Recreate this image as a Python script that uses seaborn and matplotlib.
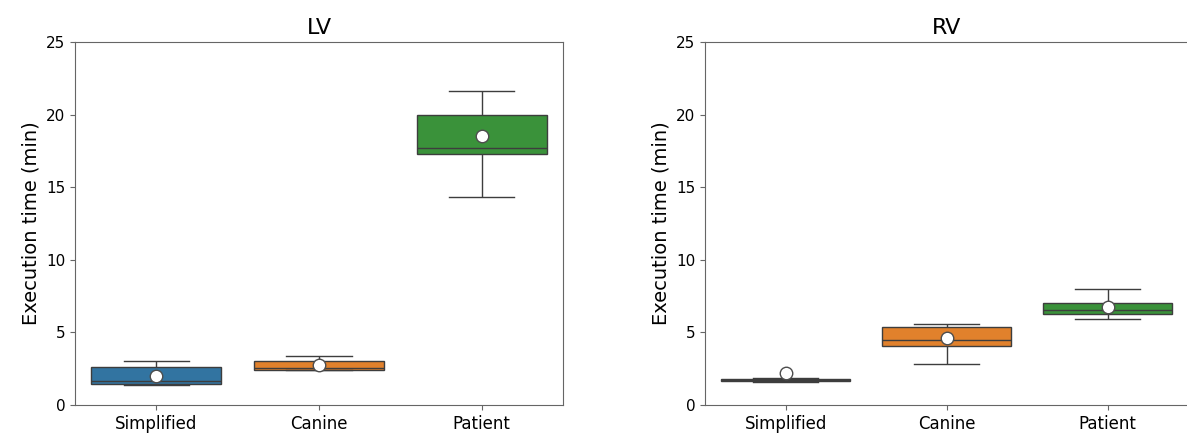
import numpy as np
import pandas as pd
import matplotlib
matplotlib.use("Agg")
import matplotlib.pyplot as plt
import seaborn as sns

models = ["Simplified", "Canine", "Patient"]
chambers = ["LV", "RV"]

# execution times (min), 9 runs per model
lv_simplified = [1.40, 1.42, 1.45, 1.55, 1.65, 2.20, 2.62, 2.90, 3.03]
lv_canine = [2.38, 2.40, 2.41, 2.53, 2.55, 3.00, 3.03, 3.35, 3.37]
lv_patient = [14.3, 17.2, 17.3, 17.65, 17.7, 19.9, 20.0, 21.4, 21.6]

rv_simplified = [1.60, 1.62, 1.65, 1.68, 1.70, 1.75, 1.80, 1.85, 6.15]
rv_canine = [2.82, 3.90, 4.06, 4.40, 4.45, 5.30, 5.37, 5.50, 5.58]
rv_patient = [5.92, 6.10, 6.27, 6.45, 6.55, 6.90, 7.02, 7.60, 7.99]

y_ticks = [0, 5, 10, 15, 20, 25]

times = {
    "LV": [lv_simplified, lv_canine, lv_patient],
    "RV": [rv_simplified, rv_canine, rv_patient],
}

rows = []
for ch in chambers:
    for m, vals in zip(models, times[ch]):
        for v in vals:
            rows.append({"chamber": ch, "model": m, "time": v})
df = pd.DataFrame(rows)

fig = plt.figure(figsize=(11.87, 4.38), dpi=100)
ax1 = fig.add_axes([0.0632, 0.0753, 0.4111, 0.8287])
ax2 = fig.add_axes([0.5940, 0.0753, 0.4069, 0.8287])

for ax, ch in zip([ax1, ax2], chambers):
    sub = df[df["chamber"] == ch]
    sns.boxplot(data=sub, x="model", y="time", hue="model", order=models,
                hue_order=models, showmeans=True, showfliers=False,
                meanprops={"marker": "o", "markerfacecolor": "white",
                           "markeredgecolor": "0.3", "markersize": 9},
                legend=False, ax=ax)
    ax.set_ylim(0, 25)
    ax.set_yticks(y_ticks)
    ax.set_title(ch, fontsize=16)
    ax.set_xlabel("")
    ax.set_ylabel("Execution time (min)", fontsize=14)
    ax.tick_params(axis="both", labelsize=12, color="0.4")
    ax.tick_params(axis="y", labelsize=11)
    for s in ax.spines.values():
        s.set_color("0.4")

fig.savefig("out.png", dpi=100)
